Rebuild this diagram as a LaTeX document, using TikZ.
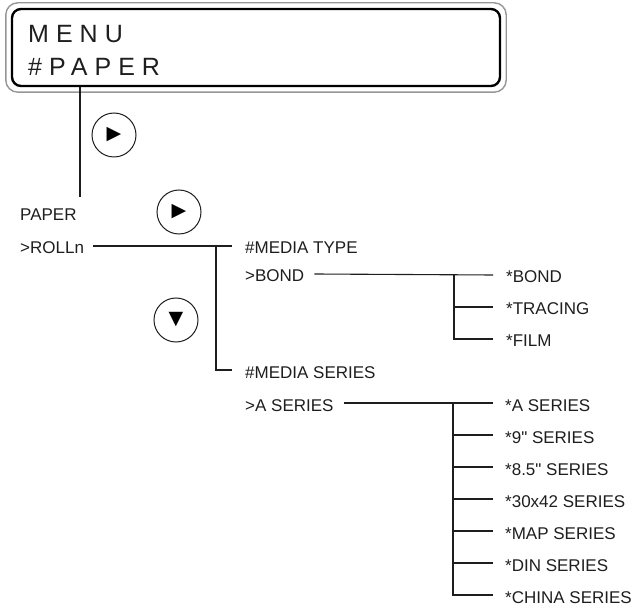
\documentclass[tikz,border=0pt]{standalone}
\usepackage{fontspec}
\setmainfont{Liberation Sans}
\newfontfamily\lcdfont[LetterSpace=28]{Liberation Sans}
\newfontfamily\keyfont{DejaVu Sans}
\usetikzlibrary{positioning}
\definecolor{inkgray}{RGB}{30,30,30}
\definecolor{rimgray}{RGB}{150,150,150}

\begin{document}
\begin{tikzpicture}[x=1pt, y=-1pt,
      lbl/.style={anchor=west, inner sep=0pt, text height=16pt, text depth=0pt,
                  font=\fontsize{17}{19}\selectfont, text=inkgray},
      lcdtext/.style={anchor=west, inner sep=0pt, text height=22pt, text depth=0pt,
                  font=\lcdfont\fontsize{25}{28}\selectfont, text=inkgray},
      keybtn/.style={circle, draw=inkgray, line width=1pt, minimum size=44pt,
                  inner sep=0pt, font=\keyfont\fontsize{19}{19}\selectfont},
      tree/.style={line width=1.1pt, inkgray}
    ]
    \useasboundingbox (0,0) rectangle (637,609);

    % display panel
    \node[draw=black, line width=2.4pt, rounded corners=9pt, fill=white,
          minimum width=488pt, minimum height=77pt] (lcd) at (256,47.5) {};
    \draw[rimgray, line width=1.4pt, rounded corners=12pt]
      ([xshift=-5pt, yshift=5pt]lcd.north west) rectangle ([xshift=5pt, yshift=-5pt]lcd.south east);
    \node[lcdtext] (menu) at (28,32) {MENU};
    \node[lcdtext] (menupaper) at (28,65) {\#PAPER};

    % keys
    \node[keybtn] (k1) at (114,135) {▶};
    \node[keybtn] (k2) at (179,212) {▶};
    \node[keybtn] (k3) at (176,320) {▼};

    % first level
    \node[lbl] (paper) at (20,213) {PAPER};
    \node[lbl] (rolln) at (20,246) {>ROLLn};
    \coordinate (drop) at (80,197);
    \draw[tree] (lcd.south -| drop) -- (drop);

    % second level
    \node[lbl] (mtype) at (245,246) {\#MEDIA TYPE};
    \node[lbl] (bond) at (245,274) {>BOND};
    \node[lbl] (mseries) at (245,370) {\#MEDIA SERIES};
    \node[lbl] (aser) at (245,403) {>A SERIES};
    \draw[tree] ([xshift=9pt]rolln.east) -- ([xshift=-13pt]mtype.west);
    \draw[tree] ([xshift=-29pt]mtype.west) |- ([xshift=-13pt]mseries.west);

    % media types
    \node[lbl] (b1) at (506,275) {*BOND};
    \node[lbl] (b2) at (506,307) {*TRACING};
    \node[lbl] (b3) at (506,339) {*FILM};
    \draw[tree] ([xshift=10pt]bond.east) -- ([xshift=-13pt]b1.west);
    \foreach \i in {2,3}
      \draw[tree] ([xshift=-52pt]b1.west) |- ([xshift=-13pt]b\i.west);

    % media series
    \foreach \i/\t in {1/*A SERIES, 2/*9\textquotedbl{} SERIES, 3/*8.5\textquotedbl{} SERIES,
                       4/*30x42 SERIES, 5/*MAP SERIES, 6/*DIN SERIES, 7/*CHINA SERIES}
      \node[lbl] (s\i) at (505,371+32*\i) {\t};
    \draw[tree] ([xshift=10pt]aser.east) -- ([xshift=-12pt]s1.west);
    \foreach \i in {2,...,7}
      \draw[tree] ([xshift=-52pt]s1.west) |- ([xshift=-12pt]s\i.west);
\end{tikzpicture}
\end{document}
